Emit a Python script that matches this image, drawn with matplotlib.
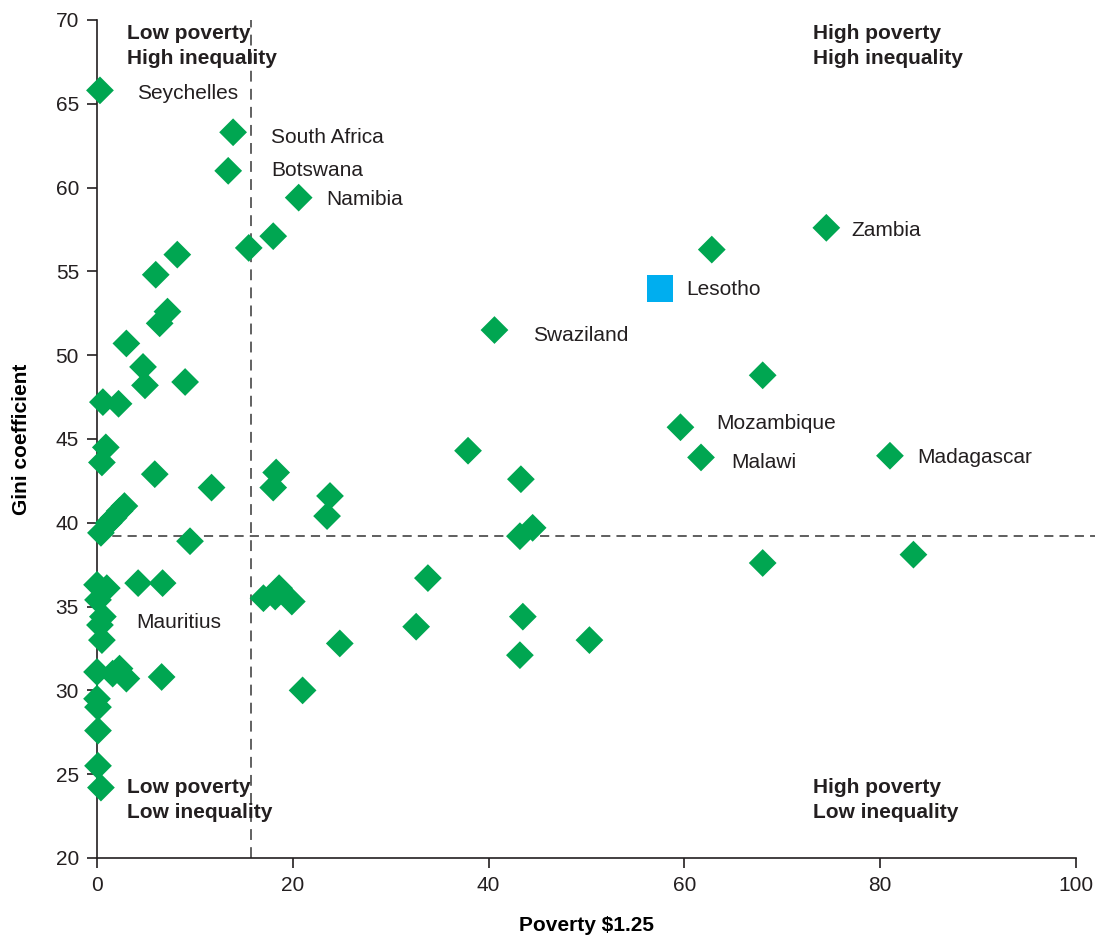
import matplotlib.pyplot as plt

plt.rcParams["font.family"] = ["Liberation Sans", "DejaVu Sans"]

# Poverty headcount ($1.25/day, %) and Gini coefficient per country
poverty = [
    0.3, 13.9, 13.4, 20.6, 74.5, 40.6, 59.6, 61.7, 81.0, 0.6,
    62.8, 68.0, 68.0, 83.4, 15.5, 18.0, 8.2, 6.0, 7.2, 6.4,
    3.0, 4.7, 4.9, 9.0, 0.6, 2.2, 0.9, 0.5, 5.9, 11.7,
    9.5, 0.4, 1.2, 1.7, 2.3, 2.8, 18.3, 18.0, 23.8, 23.5,
    37.9, 43.3, 44.5, 43.2, 4.2, 6.7, 33.8, 17.0, 18.6, 18.2,
    19.9, 24.8, 21.0, 32.6, 43.5, 43.2, 50.3, 0.0, 1.0, 0.1,
    0.3, 0.5, 0.0, 1.6, 2.3, 3.0, 6.6, 0.0, 0.1, 0.1,
    0.1, 0.4,
]
gini = [
    65.8, 63.3, 61.0, 59.4, 57.6, 51.5, 45.7, 43.9, 44.0, 34.4,
    56.3, 48.8, 37.6, 38.1, 56.4, 57.1, 56.0, 54.8, 52.6, 51.9,
    50.7, 49.3, 48.2, 48.4, 47.2, 47.1, 44.5, 43.6, 42.9, 42.1,
    38.9, 39.4, 40.0, 40.3, 40.7, 41.0, 43.0, 42.1, 41.6, 40.4,
    44.3, 42.6, 39.7, 39.2, 36.4, 36.4, 36.7, 35.5, 36.1, 35.6,
    35.3, 32.8, 30.0, 33.8, 34.4, 32.1, 33.0, 36.3, 36.1, 35.4,
    33.9, 33.0, 31.1, 31.0, 31.3, 30.7, 30.8, 29.5, 29.0, 27.6,
    25.5, 24.2,
]
names = ["Seychelles", "South Africa", "Botswana", "Namibia", "Zambia",
         "Swaziland", "Mozambique", "Malawi", "Madagascar", "Mauritius"]

lesotho = (57.5, 54.0)

poverty_avg = 15.7
gini_avg = 39.2

# label offsets (points) for named countries
offsets = [(27, -2), (27, -4), (31, 0), (20, -1), (18, -2),
           (28, -4), (26, 3), (22, -4), (20, -1), (24, -4)]

fig = plt.figure(figsize=(10.95, 9.38), dpi=100)
ax = fig.add_axes([0.0886, 0.0853, 0.894, 0.8934])

green = "#00A651"
ax.scatter(poverty, gini, marker="D", s=200, color=green, edgecolors="none",
           zorder=3, clip_on=False)
ax.scatter([lesotho[0]], [lesotho[1]], marker="s", s=370, color="#00AEEF",
           edgecolors="none", zorder=3)

for i, name in enumerate(names):
    ax.annotate(name, (poverty[i], gini[i]), xytext=offsets[i], textcoords="offset points",
                fontsize=15, va="center", ha="left", color="#231F20")
ax.annotate("Lesotho", lesotho, xytext=(19, -1), textcoords="offset points",
            fontsize=15, va="center", ha="left", color="#231F20")

ax.axvline(poverty_avg, color="#555555", lw=1.3, ls=(0, (6, 4)), zorder=1)
ax.axhline(gini_avg, xmin=0, xmax=1.02, color="#333333", lw=1.1, ls=(0, (6, 4)),
           clip_on=False, zorder=1)

qkw = dict(fontsize=15, fontweight="bold", va="top", ha="left", color="#231F20",
           linespacing=1.4)
ax.text(3.1, 69.75, "Low poverty\nHigh inequality", **qkw)
ax.text(73.1, 69.75, "High poverty\nHigh inequality", **qkw)
ax.text(3.1, 24.75, "Low poverty\nLow inequality", **qkw)
ax.text(73.1, 24.75, "High poverty\nLow inequality", **qkw)

ax.set_xlim(0, 100)
ax.set_ylim(20, 70)
ax.set_xticks(range(0, 101, 20))
ax.set_yticks(range(20, 71, 5))
ax.spines["top"].set_visible(False)
ax.spines["right"].set_visible(False)
for s in ["left", "bottom"]:
    ax.spines[s].set_linewidth(1.2)
    ax.spines[s].set_color("#231F20")
ax.tick_params(direction="out", length=7, width=1.2, labelsize=15, colors="#231F20", pad=6)

ax.set_xlabel("Poverty $1.25", fontsize=15, fontweight="bold", labelpad=15)
ax.set_ylabel("Gini coefficient", fontsize=15, fontweight="bold", labelpad=18)

fig.savefig("out.png", dpi=100)
